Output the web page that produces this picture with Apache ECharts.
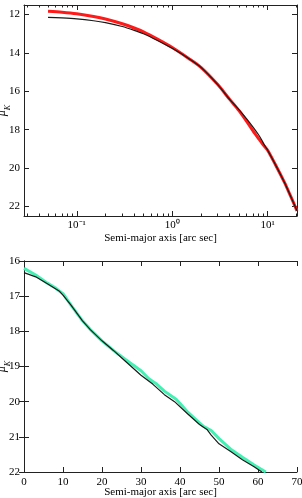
<!DOCTYPE html>
<html><head><meta charset="utf-8">
<script src="https://cdn.jsdelivr.net/npm/echarts@6/dist/echarts.min.js"></script>
<style>html,body{margin:0;padding:0;background:#fff}#c{width:302px;height:498px}</style>
</head><body><div id="c"></div>
<script>
// ---- Top panel (log radius) ----
const topRadius   = [0.05, 0.07, 0.1, 0.15, 0.2, 0.3, 0.4, 0.5, 0.7, 1.0, 1.5, 2, 3, 4, 5, 6, 7, 8, 8.7, 9.2, 10, 12, 15, 17, 20.3];
const topRedMu    = [11.83, 11.88, 11.96, 12.1, 12.23, 12.48, 12.7, 12.9, 13.28, 13.72, 14.3, 14.75, 15.65, 16.42, 17.0, 17.55, 18.05, 18.45, 18.7, 18.85, 19.07, 19.8, 20.75, 21.35, 22.23];
const topBlackMu  = [12.14, 12.17, 12.22, 12.32, 12.42, 12.62, 12.82, 13.0, 13.35, 13.76, 14.3, 14.75, 15.65, 16.42, 16.95, 17.42, 17.85, 18.25, 18.55, 18.78, 19.07, 19.8, 20.75, 21.35, 22.23];
const topYTicks   = [12, 14, 16, 18, 20, 22];
const topMajorX   = [0.1, 1, 10];
const topMinorX   = [0.03, 0.04, 0.05, 0.06, 0.07, 0.08, 0.09, 0.2, 0.3, 0.4, 0.5, 0.6, 0.7, 0.8, 0.9, 2, 3, 4, 5, 6, 7, 8, 9, 20];

// ---- Bottom panel (linear radius) ----
const botGreenX   = [0, 3, 6, 8, 9, 10, 12, 15, 16, 17, 20, 23, 26, 28.5, 30, 32, 34, 36, 39, 40, 42, 44, 46, 48, 50, 53, 56, 59, 62];
const botGreenMu  = [16.21, 16.4, 16.63, 16.76, 16.85, 16.93, 17.25, 17.7, 17.82, 17.95, 18.27, 18.55, 18.8, 19.0, 19.12, 19.35, 19.5, 19.7, 19.93, 20.05, 20.3, 20.5, 20.7, 20.82, 21.05, 21.35, 21.58, 21.8, 22.0];
const botBlackX   = [0, 3, 6, 9, 10, 12, 15, 17, 20, 23, 26, 27.5, 30, 33, 36, 38.6, 42, 45, 47, 48, 50, 53, 56, 59, 61];
const botBlackMu  = [16.33, 16.45, 16.65, 16.85, 16.97, 17.25, 17.7, 17.95, 18.27, 18.55, 18.85, 19.0, 19.25, 19.5, 19.8, 20.0, 20.35, 20.65, 20.8, 20.95, 21.2, 21.42, 21.65, 21.85, 22.0];
const botYTicks   = [16, 17, 18, 19, 20, 21, 22];
const botXTicks   = [0, 10, 20, 30, 40, 50, 60, 70];

const zip = (a, b) => a.map((v, i) => [v, b[i]]);
const FONT = 'Liberation Serif';
const AX = '#222';
const supMap = {'-': '⁻', '0': '⁰', '1': '¹', '2': '²', '3': '³'};

const chart = echarts.init(document.getElementById('c'), null, {renderer: 'canvas'});

function frameAxis(extra) {
  return Object.assign({
    nameMoveOverlap: false,
    axisLine: {show: true, lineStyle: {color: AX, width: 1}},
    axisTick: {show: true, inside: true, length: 5, lineStyle: {color: AX}},
    axisLabel: {show: false},
    splitLine: {show: false},
    minorTick: {show: false},
    minorSplitLine: {show: false}
  }, extra);
}

const yName = {
  name: '{m|μ}{k|K}',
  nameLocation: 'middle',
  nameGap: 12,
  nameTextStyle: {
    rich: {
      m: {fontFamily: FONT, fontSize: 12, fontStyle: 'italic', color: '#000', lineHeight: 16, verticalAlign: 'top'},
      k: {fontFamily: FONT, fontSize: 8, fontStyle: 'italic', color: '#000', lineHeight: 16, verticalAlign: 'bottom'}
    }
  }
};
const xNameStyle = {fontFamily: FONT, fontSize: 11, color: '#000'};
const labelStyle = {fontFamily: FONT, fontSize: 11, color: '#000'};

const option = {
  animation: false,
  backgroundColor: '#fff',
  grid: [
    {left: 24, right: 5, top: 5, height: 211, containLabel: false, outerBoundsMode: 'none'},
    {left: 24, right: 5, top: 261, height: 211, containLabel: false, outerBoundsMode: 'none'}
  ],
  xAxis: [
    frameAxis({type: 'log', gridIndex: 0, min: 0.028, max: 20.3, position: 'bottom',
      axisTick: {show: true, inside: true, length: 5, lineStyle: {color: AX}, customValues: topMajorX},
      axisLabel: {show: true, margin: 4, customValues: topMajorX, ...labelStyle,
        formatter: v => { const e = Math.round(Math.log10(v)); return '10' + String(e).split('').map(c => supMap[c]).join(''); }},
      name: 'Semi-major axis [arc sec]', nameLocation: 'middle', nameGap: 17, nameTextStyle: xNameStyle}),
    frameAxis({type: 'log', gridIndex: 0, min: 0.028, max: 20.3, position: 'top',
      axisTick: {show: true, inside: true, length: 5, lineStyle: {color: AX}, customValues: topMajorX}}),
    frameAxis({type: 'log', gridIndex: 0, min: 0.028, max: 20.3, position: 'bottom', axisLine: {show: false},
      axisTick: {show: true, inside: true, length: 2.5, lineStyle: {color: AX}, customValues: topMinorX}}),
    frameAxis({type: 'log', gridIndex: 0, min: 0.028, max: 20.3, position: 'top', axisLine: {show: false},
      axisTick: {show: true, inside: true, length: 2.5, lineStyle: {color: AX}, customValues: topMinorX}}),
    frameAxis({type: 'value', gridIndex: 1, min: 0, max: 70, interval: 10, position: 'bottom',
      axisTick: {show: true, inside: true, length: 5, lineStyle: {color: AX}, customValues: botXTicks},
      axisLabel: {show: true, margin: 5, customValues: botXTicks, ...labelStyle},
      name: 'Semi-major axis [arc sec]', nameLocation: 'middle', nameGap: 15, nameTextStyle: xNameStyle}),
    frameAxis({type: 'value', gridIndex: 1, min: 0, max: 70, interval: 10, position: 'top',
      axisTick: {show: true, inside: true, length: 5, lineStyle: {color: AX}, customValues: botXTicks}})
  ],
  yAxis: [
    frameAxis({type: 'value', gridIndex: 0, inverse: true, min: 11.5, max: 22.5, position: 'left',
      axisTick: {show: true, inside: true, length: 5, lineStyle: {color: AX}, customValues: topYTicks},
      axisLabel: {show: true, margin: 4, customValues: topYTicks, ...labelStyle}, ...yName}),
    frameAxis({type: 'value', gridIndex: 0, inverse: true, min: 11.5, max: 22.5, position: 'right',
      axisTick: {show: true, inside: true, length: 5, lineStyle: {color: AX}, customValues: topYTicks}}),
    frameAxis({type: 'value', gridIndex: 1, inverse: true, min: 16, max: 22, interval: 1, position: 'left',
      axisTick: {show: true, inside: true, length: 5, lineStyle: {color: AX}, customValues: botYTicks},
      axisLabel: {show: true, margin: 4, customValues: botYTicks, ...labelStyle}, ...yName}),
    frameAxis({type: 'value', gridIndex: 1, inverse: true, min: 16, max: 22, interval: 1, position: 'right',
      axisTick: {show: true, inside: true, length: 5, lineStyle: {color: AX}, customValues: botYTicks}})
  ],
  series: [
    {type: 'line', xAxisIndex: 0, yAxisIndex: 0, data: zip(topRadius, topRedMu), showSymbol: false, symbol: 'none',
      smooth: 0.25, lineStyle: {color: '#ff1a1a', width: 3}, z: 2},
    {type: 'line', xAxisIndex: 0, yAxisIndex: 0, data: zip(topRadius, topBlackMu), showSymbol: false, symbol: 'none',
      smooth: 0.25, lineStyle: {color: '#1a1a1a', width: 1.2}, z: 3},
    {type: 'line', xAxisIndex: 4, yAxisIndex: 2, data: zip(botGreenX, botGreenMu), showSymbol: false, symbol: 'none',
      lineStyle: {color: '#44f0b4', width: 3}, z: 2},
    {type: 'line', xAxisIndex: 4, yAxisIndex: 2, data: zip(botBlackX, botBlackMu), showSymbol: false, symbol: 'none',
      lineStyle: {color: '#1a1a1a', width: 1.2}, z: 3}
  ]
};
chart.setOption(option);
</script>
</body></html>
